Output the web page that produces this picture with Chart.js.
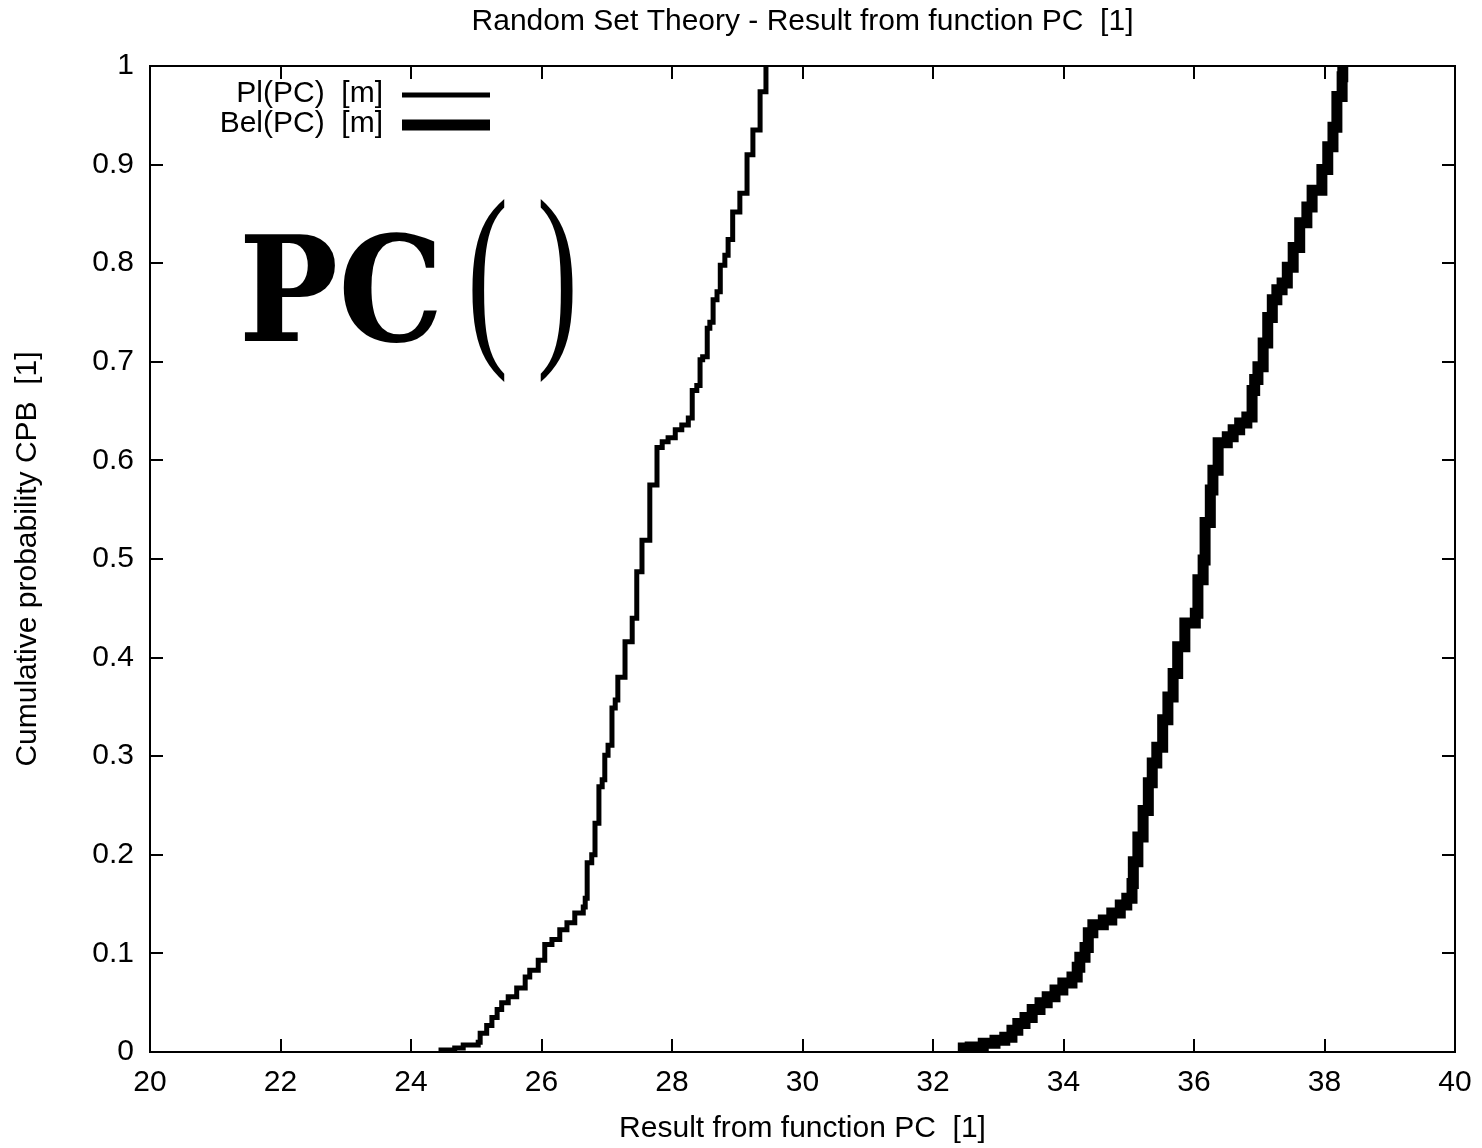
<!DOCTYPE html>
<html><head><meta charset="utf-8">
<script src="https://cdn.jsdelivr.net/npm/chart.js@4.4.0/dist/chart.umd.min.js"></script>
<style>html,body{margin:0;padding:0;background:#fff;overflow:hidden}#wrap{width:1482px;height:1148px}</style>
</head><body><div id="wrap"><canvas id="c" width="1482" height="1148"></canvas></div>
<script>
const chartTitle = "Random Set Theory - Result from function PC  [1]";
const xAxisTitle = "Result from function PC  [1]";
const yAxisTitle = "Cumulative probability CPB  [1]";
const seriesLabels = ["Pl(PC)  [m]", "Bel(PC)  [m]"];
const overlayText = "PC";

const plX = [24.46,24.46,24.67,24.80,25.03,25.06,25.16,25.24,25.32,25.39,25.49,25.62,25.75,25.82,25.95,26.05,26.16,26.28,26.39,26.51,26.64,26.67,26.70,26.77,26.82,26.88,26.93,26.97,27.02,27.08,27.13,27.17,27.28,27.39,27.46,27.54,27.66,27.77,27.85,27.94,28.05,28.15,28.25,28.31,28.38,28.43,28.47,28.54,28.58,28.63,28.69,28.74,28.81,28.86,28.93,29.04,29.15,29.24,29.35,29.44];
const plY = [0.000,0.002,0.004,0.007,0.010,0.019,0.027,0.035,0.043,0.050,0.056,0.065,0.076,0.083,0.093,0.109,0.114,0.124,0.131,0.141,0.147,0.156,0.192,0.200,0.232,0.269,0.276,0.301,0.311,0.349,0.357,0.380,0.416,0.440,0.487,0.519,0.575,0.613,0.619,0.623,0.631,0.636,0.643,0.671,0.676,0.702,0.705,0.734,0.740,0.763,0.771,0.798,0.808,0.824,0.852,0.871,0.910,0.935,0.974,1.000];

const belX = [32.38,32.57,32.77,32.95,33.10,33.21,33.30,33.41,33.52,33.64,33.75,33.87,33.99,34.13,34.21,34.25,34.33,34.38,34.45,34.61,34.74,34.87,34.97,35.05,35.07,35.14,35.22,35.30,35.36,35.43,35.52,35.60,35.68,35.75,35.86,36.02,36.06,36.14,36.17,36.25,36.29,36.37,36.51,36.60,36.70,36.81,36.89,36.93,36.98,37.06,37.13,37.20,37.27,37.35,37.43,37.52,37.62,37.73,37.81,37.96,38.05,38.13,38.19,38.27,38.28];
const belY = [0.004,0.005,0.009,0.012,0.015,0.022,0.029,0.035,0.043,0.050,0.056,0.063,0.070,0.076,0.086,0.096,0.106,0.121,0.129,0.134,0.141,0.149,0.156,0.171,0.193,0.218,0.245,0.273,0.293,0.309,0.337,0.360,0.384,0.411,0.435,0.445,0.479,0.499,0.537,0.570,0.590,0.618,0.624,0.631,0.638,0.644,0.671,0.682,0.695,0.719,0.745,0.763,0.773,0.780,0.796,0.816,0.841,0.857,0.874,0.895,0.918,0.938,0.969,0.989,1.000];

const xMin = 20, xMax = 40, xStep = 2;
const yMin = 0, yMax = 1, yStep = 0.1;

const FONT = "'Liberation Sans', Arial, Helvetica, sans-serif";
const FS = 30;
Chart.defaults.font.family = FONT;
Chart.defaults.font.size = FS;
Chart.defaults.color = '#000';

const toPts = (xs, ys) => xs.map((v, i) => ({x: v, y: ys[i]}));

function drawFitted(ctx, text, font, x0, y0, x1, y1) {
  ctx.save();
  ctx.font = font;
  ctx.textAlign = 'left';
  ctx.textBaseline = 'alphabetic';
  const m = ctx.measureText(text);
  const w = m.actualBoundingBoxLeft + m.actualBoundingBoxRight;
  const h = m.actualBoundingBoxAscent + m.actualBoundingBoxDescent;
  ctx.translate(x0, y0);
  ctx.scale((x1 - x0) / w, (y1 - y0) / h);
  ctx.fillStyle = '#000';
  ctx.fillText(text, m.actualBoundingBoxLeft, m.actualBoundingBoxAscent);
  ctx.restore();
}

const decor = {
  id: 'decor',
  afterDatasetsDraw(chart) {
    const {ctx, chartArea: a, scales: {x, y}} = chart;
    ctx.save();
    ctx.strokeStyle = '#000';
    ctx.lineWidth = 2;
    ctx.lineCap = 'butt';
    const T = 13;
    ctx.beginPath();
    x.ticks.forEach(t => {
      const px = Math.round(x.getPixelForValue(t.value));
      ctx.moveTo(px, a.bottom); ctx.lineTo(px, a.bottom - T);
      ctx.moveTo(px, a.top); ctx.lineTo(px, a.top + T);
    });
    y.ticks.forEach(t => {
      const py = Math.round(y.getPixelForValue(t.value));
      ctx.moveTo(a.left, py); ctx.lineTo(a.left + T, py);
      ctx.moveTo(a.right, py); ctx.lineTo(a.right - T, py);
    });
    ctx.stroke();
    ctx.strokeRect(a.left, a.top, a.right - a.left, a.bottom - a.top);

    // title
    ctx.fillStyle = '#000';
    ctx.font = FS + 'px ' + FONT;
    ctx.textAlign = 'center';
    ctx.textBaseline = 'middle';
    ctx.fillText(chartTitle, (a.left + a.right) / 2, 22);

    // legend
    const ds = chart.data.datasets;
    const rows = [94, 124];
    const lineYs = [95, 125];
    ctx.textAlign = 'right';
    ds.forEach((d, i) => {
      ctx.fillText(d.label, 383, rows[i]);
      ctx.beginPath();
      ctx.lineWidth = d.borderWidth;
      ctx.moveTo(402, lineYs[i]);
      ctx.lineTo(490, lineYs[i]);
      ctx.stroke();
    });

    // big overlay text
    drawFitted(ctx, overlayText, "bold 150px 'DejaVu Serif', serif", 245, 232, 437, 343);
    drawFitted(ctx, "(", "150px 'Liberation Serif', serif", 472, 197, 505, 383);
    drawFitted(ctx, ")", "150px 'Liberation Serif', serif", 540, 197, 573, 383);
    ctx.restore();
  }
};

new Chart(document.getElementById('c'), {
  type: 'line',
  data: {
    datasets: [
      {label: seriesLabels[0], data: toPts(plX, plY), borderColor: '#000', borderWidth: 5, stepped: true, pointRadius: 0, fill: false, borderJoinStyle: 'miter', borderCapStyle: 'butt'},
      {label: seriesLabels[1], data: toPts(belX, belY), borderColor: '#000', borderWidth: 11, stepped: true, pointRadius: 0, fill: false, borderJoinStyle: 'miter', borderCapStyle: 'butt'}
    ]
  },
  options: {
    responsive: false,
    animation: false,
    devicePixelRatio: 1,
    layout: {padding: {top: 66, right: 27, left: 0, bottom: 0}},
    plugins: {legend: {display: false}, title: {display: false}, tooltip: {enabled: false}},
    scales: {
      x: {
        type: 'linear', min: xMin, max: xMax,
        afterFit: s => { s.height = 96; s.paddingRight = 0; s.paddingLeft = 0; },
        grid: {display: false, drawTicks: false},
        border: {display: false},
        ticks: {stepSize: xStep, padding: 13, autoSkip: false, maxRotation: 0, font: {size: FS}},
        title: {display: true, text: xAxisTitle, padding: {top: 0, bottom: 1}, font: {size: FS}}
      },
      y: {
        type: 'linear', min: yMin, max: yMax,
        afterFit: s => { s.width = 150; },
        grid: {display: false, drawTicks: false},
        border: {display: false},
        ticks: {stepSize: yStep, padding: 16, autoSkip: false, font: {size: FS},
                callback: v => String(Math.round(v * 10) / 10)},
        title: {display: true, text: yAxisTitle, padding: {top: 10, bottom: 0}, font: {size: FS}}
      }
    }
  },
  plugins: [decor]
});
</script></body></html>
